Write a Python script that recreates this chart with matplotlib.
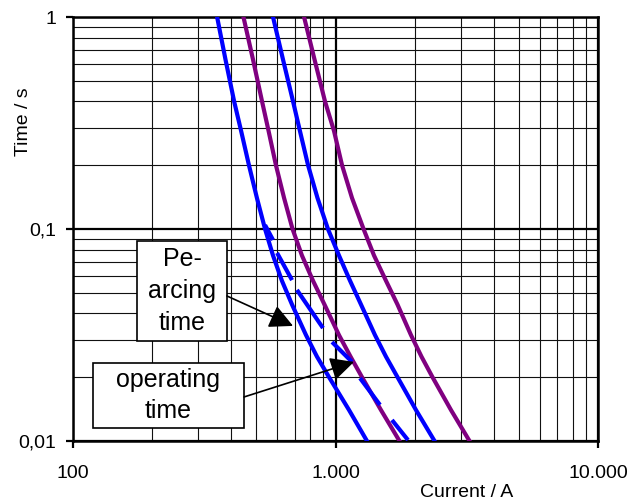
import numpy as np
import matplotlib
matplotlib.use("Agg")
from matplotlib import pyplot as plt
from matplotlib.patches import Rectangle
from matplotlib.ticker import FixedLocator, LogLocator, FuncFormatter, NullFormatter

plt.rcParams['font.family'] = ['Liberation Sans', 'DejaVu Sans']

# curves: current (A) vs time (s)
time_pts = [1.0, 0.63, 0.4, 0.29, 0.2, 0.14, 0.1, 0.075, 0.057, 0.044, 0.0316, 0.025, 0.02, 0.014, 0.01]
blue1_cur = [354, 381, 411, 437, 468, 502, 539, 578, 625, 683, 772, 850, 945, 1126, 1318]
purple1_cur = [446, 485, 525, 556, 593, 637, 686, 745, 821, 908, 1031, 1141, 1262, 1490, 1753]
blue2_cur = [578, 631, 689, 732, 786, 854, 936, 1031, 1136, 1251, 1414, 1557, 1723, 2026, 2384]
purple2_cur = [759, 832, 912, 987, 1059, 1156, 1279, 1402, 1557, 1723, 1939, 2126, 2342, 2754, 3240]

# broken (stepped) blue curve, pieces separated by nan
dash_cur = [539, 578, np.nan, 599, 683, np.nan, 713, 896, np.nan,
            970, 1156, np.nan, 1240, 1477, np.nan, 1641, 1889]
dash_time = [0.1044, 0.0888, np.nan, 0.0771, 0.0574, np.nan, 0.0516, 0.0341, np.nan,
             0.0293, 0.0236, np.nan, 0.0198, 0.0148, np.nan, 0.01256, 0.0101]

x_ticks = [100, 1000, 10000]
x_labels = ["100", "1.000", "10.000"]
y_ticks = [0.01, 0.1, 1]
y_labels = ["0,01", "0,1", "1"]

fig = plt.figure(figsize=(6.42, 5.03), dpi=100)
ax = fig.add_axes([73/642, 1-441/503, 525/642, 424/503])
ax.set_xscale('log')
ax.set_yscale('log')
ax.set_xlim(100, 10000)
ax.set_ylim(0.01, 1)

# grid
ax.xaxis.set_minor_locator(LogLocator(base=10, subs=np.arange(2, 10)))
ax.yaxis.set_minor_locator(LogLocator(base=10, subs=np.arange(2, 10)))
ax.xaxis.set_minor_formatter(NullFormatter())
ax.yaxis.set_minor_formatter(NullFormatter())
ax.grid(which='minor', color='#111111', lw=0.8)
ax.grid(which='major', color='black', lw=1.6)
ax.set_axisbelow(True)

ax.xaxis.set_major_locator(FixedLocator(x_ticks))
ax.yaxis.set_major_locator(FixedLocator(y_ticks))
ax.xaxis.set_major_formatter(FuncFormatter(lambda v, p: dict(zip(x_ticks, x_labels)).get(round(v), "")))
ax.yaxis.set_major_formatter(FuncFormatter(lambda v, p: dict(zip(y_ticks, y_labels)).get(round(v, 3), "")))
ax.tick_params(which='major', direction='out', length=5, width=1.6, labelsize=14)
ax.tick_params(axis='x', pad=12)
ax.tick_params(axis='y', pad=7)
ax.tick_params(which='minor', length=0)
for s in ax.spines.values():
    s.set_linewidth(1.8)

ax.plot(blue1_cur, time_pts, color='#0000ff', lw=3, zorder=3)
ax.plot(purple1_cur, time_pts, color='#800080', lw=3, zorder=3)
ax.plot(blue2_cur, time_pts, color='#0000ff', lw=3, zorder=3)
ax.plot(purple2_cur, time_pts, color='#800080', lw=3, zorder=3)
ax.plot(dash_cur, dash_time, color='#0000ff', lw=3, zorder=3, solid_capstyle='butt')

ax.set_xlabel("Current / A", fontsize=14)
ax.xaxis.set_label_coords(0.749, -0.102)
ax.set_ylabel("Time / s", fontsize=14)
ax.yaxis.set_label_coords(-0.078, 0.752)

# annotation boxes
ax.add_patch(Rectangle((0.1219, 0.2358), 0.1714, 0.2359, transform=ax.transAxes,
                       fc='white', ec='black', lw=1.2, zorder=5))
ax.text(0.2076, 0.3538, "Pe-\narcing\ntime", transform=ax.transAxes, ha='center', va='center',
        fontsize=18, linespacing=1.4, zorder=6)
ax.annotate("", xy=(689, 0.0349), xytext=(0.2933, 0.342), textcoords='axes fraction',
            arrowprops=dict(arrowstyle='-|>', color='black', lw=1.2, mutation_scale=36,
                            shrinkA=0, shrinkB=0), zorder=6)

ax.add_patch(Rectangle((0.0381, 0.0307), 0.2876, 0.1533, transform=ax.transAxes,
                       fc='white', ec='black', lw=1.2, zorder=5))
ax.text(0.1819, 0.1073, "operating\ntime", transform=ax.transAxes, ha='center', va='center',
        fontsize=18, linespacing=1.4, zorder=6)
ax.annotate("", xy=(1176, 0.0236), xytext=(0.3257, 0.1038), textcoords='axes fraction',
            arrowprops=dict(arrowstyle='-|>', color='black', lw=1.2, mutation_scale=36,
                            shrinkA=0, shrinkB=0), zorder=6)

fig.savefig("out.png", dpi=100)
